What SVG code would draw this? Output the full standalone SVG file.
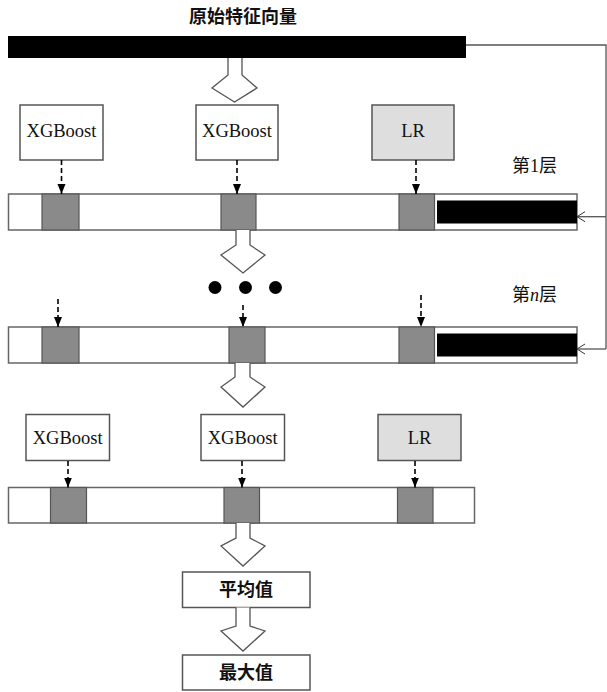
<svg xmlns="http://www.w3.org/2000/svg" width="607" height="692" viewBox="0 0 607 692">
<defs>
<marker id="tri" markerUnits="userSpaceOnUse" markerWidth="10" markerHeight="10" viewBox="0 0 10 10" refX="10" refY="5" orient="auto">
<path d="M0,1 L10,5 L0,9 Z" fill="#000"/>
</marker>
<marker id="open" markerUnits="userSpaceOnUse" markerWidth="10" markerHeight="12" viewBox="0 0 10 12" refX="9" refY="6" orient="auto">
<path d="M1,1 L9,6 L1,11" fill="none" stroke="#333" stroke-width="1"/>
</marker>
<style>
.box{fill:#fff;stroke:#555;stroke-width:1.5}
.lr{fill:#dedede;stroke:#555;stroke-width:1.5}
.bar{fill:#fff;stroke:#666;stroke-width:1.5}
.blk{fill:#8a8a8a;stroke:#555;stroke-width:1.2}
.black{fill:#000}
.dash{stroke:#000;stroke-width:1.6;stroke-dasharray:5 3;fill:none}
.hollow{fill:#fff;stroke:#555;stroke-width:1.3;stroke-linejoin:miter}
.line{fill:none;stroke:#555;stroke-width:1.3}
.model{font-family:"Liberation Serif",serif;font-size:18.5px;fill:#111;text-anchor:middle}
.cn{font-family:"Noto Sans CJK SC",sans-serif;font-size:18px;font-weight:bold;fill:#111;text-anchor:middle}
.lab{font-family:"Liberation Serif","Noto Sans CJK SC",serif;font-size:18px;fill:#111}
</style>
</defs>

<g id="title">
<text class="cn" x="243" y="23" font-size="18">原始特征向量</text>
</g>
<g id="input-vector">
<rect class="black" x="8" y="36" width="458" height="22"/>
</g>

<g id="layer1-models">
<g id="l1-xgb1"><rect class="box" x="20" y="105" width="83" height="55"/><text class="model" x="61.5" y="137">XGBoost</text></g>
<g id="l1-xgb2"><rect class="box" x="196" y="105" width="82" height="55"/><text class="model" x="237" y="137">XGBoost</text></g>
<g id="l1-lr"><rect class="lr" x="372" y="105" width="82" height="55"/><text class="model" x="413" y="137">LR</text></g>
</g>

<g id="layer1-label"><text class="lab" x="512" y="172">第1层</text></g>

<g id="layer1-bar">
<rect class="bar" x="8.5" y="194" width="568.5" height="36"/>
<rect class="blk" x="42" y="194" width="37" height="36"/>
<rect class="blk" x="221" y="194" width="35" height="36"/>
<rect class="blk" x="399" y="194" width="35.5" height="36"/>
<rect class="black" x="437" y="200.5" width="140" height="23"/>
</g>

<g id="dots">
<circle cx="215" cy="287.5" r="6.5" fill="#000"/>
<circle cx="245.5" cy="287.5" r="6.5" fill="#000"/>
<circle cx="275.5" cy="287.5" r="6.5" fill="#000"/>
</g>

<g id="layern-label"><text class="lab" x="512" y="301">第<tspan font-style="italic" font-family="Liberation Serif">n</tspan>层</text></g>

<g id="layern-bar">
<rect class="bar" x="8.5" y="327" width="568.5" height="36"/>
<rect class="blk" x="42" y="327" width="37" height="36"/>
<rect class="blk" x="229" y="327" width="36" height="36"/>
<rect class="blk" x="399" y="327" width="35.5" height="36"/>
<rect class="black" x="437" y="333.5" width="140" height="23"/>
</g>

<g id="final-models">
<g id="f-xgb1"><rect class="box" x="26" y="414.5" width="83.5" height="46"/><text class="model" x="67.7" y="443.5">XGBoost</text></g>
<g id="f-xgb2"><rect class="box" x="201" y="414.5" width="83.5" height="46"/><text class="model" x="242.7" y="443.5">XGBoost</text></g>
<g id="f-lr"><rect class="lr" x="378" y="414.5" width="83" height="46"/><text class="model" x="419.5" y="443.5">LR</text></g>
</g>

<g id="final-bar">
<rect class="bar" x="8.5" y="487.5" width="466" height="35.5"/>
<rect class="blk" x="50.5" y="487.5" width="36" height="35.5"/>
<rect class="blk" x="224" y="487.5" width="35.5" height="35.5"/>
<rect class="blk" x="397.5" y="487.5" width="35.5" height="35.5"/>
</g>

<g id="mean-box"><rect class="box" x="182.5" y="572" width="127.5" height="35.5"/><text class="cn" x="246" y="596">平均值</text></g>
<g id="max-box"><rect class="box" x="182.5" y="655" width="127.5" height="35"/><text class="cn" x="246" y="679">最大值</text></g>

<g id="connectors">
<path class="hollow" d="M228,58 V75 L212,88 L234.5,102 L257,88 L242,75 V58"/>
<path class="hollow" d="M236,230 V245 L221,255 L243,273 L265,255 L250,245 V230"/>
<path class="hollow" d="M235,363 V377 L221,387 L243,407 L265,387 L250,377 V363"/>
<path class="hollow" d="M236,523 V538 L221,546 L243,566 L265,546 L250,538 V523"/>
<path class="hollow" d="M236,607.5 V626 L221,631 L243,651 L265,631 L250,626 V607.5"/>

<line class="dash" x1="61.5" y1="160" x2="61.5" y2="194" marker-end="url(#tri)"/>
<line class="dash" x1="237" y1="160" x2="237" y2="194" marker-end="url(#tri)"/>
<line class="dash" x1="416" y1="160" x2="416" y2="194" marker-end="url(#tri)"/>

<line class="dash" x1="58" y1="299" x2="58" y2="327" marker-end="url(#tri)"/>
<line class="dash" x1="243" y1="305" x2="243" y2="327" marker-end="url(#tri)"/>
<line class="dash" x1="421" y1="295" x2="421" y2="327" marker-end="url(#tri)"/>

<line class="dash" x1="68" y1="461" x2="68" y2="487.5" marker-end="url(#tri)"/>
<line class="dash" x1="242" y1="461" x2="242" y2="487.5" marker-end="url(#tri)"/>
<line class="dash" x1="415" y1="461" x2="415" y2="487.5" marker-end="url(#tri)"/>

<polyline class="line" points="466,45 606,45 606,349"/>
<line class="line" x1="606" y1="216.7" x2="577" y2="216.7" marker-end="url(#open)"/>
<line class="line" x1="606" y1="349" x2="577" y2="349" marker-end="url(#open)"/>
</g>
</svg>
